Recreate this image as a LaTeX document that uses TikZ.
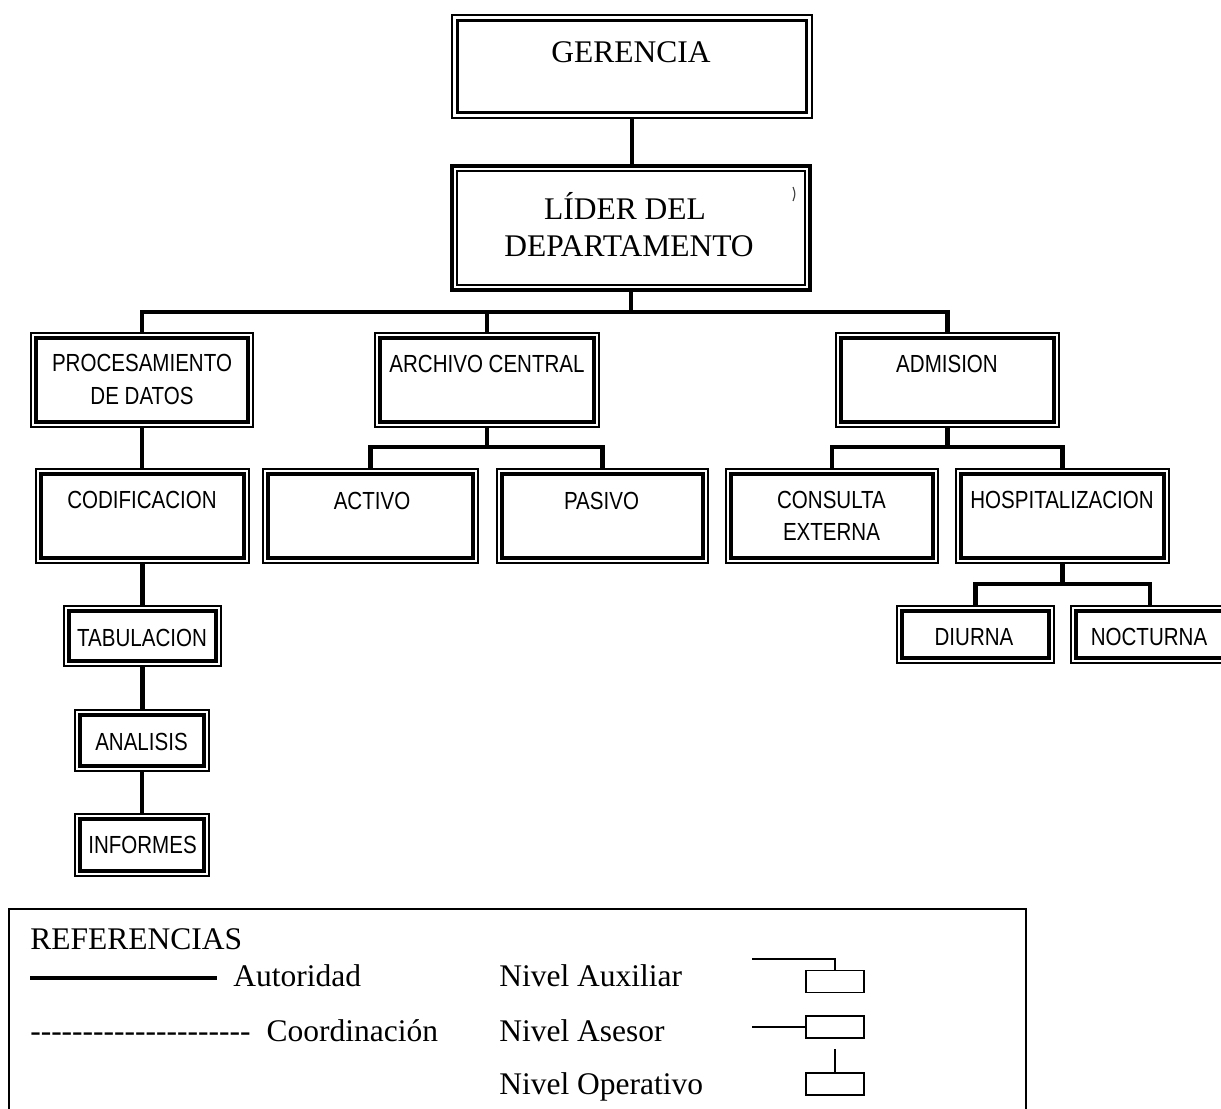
\documentclass[tikz,border=0pt]{standalone}
\usepackage{fontspec}
\setmainfont{Liberation Serif}
\newfontfamily\narrowsans{Liberation Sans}[FakeStretch=0.83]

% a row of plain hyphens (kerns keep them from turning into dashes)
\newcommand\dashrow{-\kern0pt-\kern0pt-\kern0pt-\kern0pt-\kern0pt-\kern0pt-\kern0pt-\kern0pt-\kern0pt-\kern0pt-\kern0pt-\kern0pt-\kern0pt-\kern0pt-\kern0pt-\kern0pt-\kern0pt-\kern0pt-\kern0pt-\kern0pt-}

% box from its outer corners: style, name, x1, y1, x2, y2
\newcommand\orgbox[6]{%
  \node[#1, minimum width={(#5-#3)*0.025cm}, minimum height={(#6-#4)*0.025cm}]
    (#2) at ({(#3+#5)/2},{(#4+#6)/2}) {};}

\begin{document}
\begin{tikzpicture}[x=0.025cm, y=-0.025cm,
  conn/.style={line width=3.2pt},
  framed/.style={draw, inner sep=0pt, outer sep=0pt},
  subbox/.style={framed, line width=1.1pt,
    path picture={\draw[line width=2.9pt]
      ([shift={(0.115cm,-0.115cm)}]path picture bounding box.north west) rectangle
      ([shift={(-0.115cm,0.115cm)}]path picture bounding box.south east);}},
  topbox/.style={framed, line width=1.7pt,
    path picture={\draw[line width=1.9pt]
      ([shift={(0.14cm,-0.14cm)}]path picture bounding box.north west) rectangle
      ([shift={(-0.14cm,0.14cm)}]path picture bounding box.south east);}},
  headbox/.style={framed, line width=3.2pt,
    path picture={\draw[line width=1.5pt]
      ([shift={(0.12cm,-0.12cm)}]path picture bounding box.north west) rectangle
      ([shift={(-0.12cm,0.12cm)}]path picture bounding box.south east);}},
  ttl/.style={font=\fontsize{22.4}{26.3}\selectfont, inner sep=0pt},
  lbl/.style={font=\narrowsans\fontsize{17.6}{22.8}\selectfont, inner sep=0pt},
  leg/.style={font=\fontsize{22.4}{27}\selectfont, inner sep=0pt, anchor=base west},
  lgbox/.style={framed, line width=1pt, minimum width=1.45cm, minimum height=0.55cm},
  lgline/.style={line width=1pt}]

\useasboundingbox (0,0) rectangle (1221,1109);
\clip (0,0) rectangle (1221,1109);

% ---- boxes ----
\orgbox{topbox}{ger}{452}{15}{812}{118}
\orgbox{headbox}{lid}{452}{166}{810}{290}
\orgbox{subbox}{proc}{31}{333}{253}{427}
\orgbox{subbox}{arch}{375}{333}{599}{427}
\orgbox{subbox}{adm}{836}{333}{1059}{427}
\orgbox{subbox}{cod}{36}{469}{249}{563}
\orgbox{subbox}{act}{263}{469}{478}{563}
\orgbox{subbox}{pas}{497}{469}{708}{563}
\orgbox{subbox}{con}{726}{469}{938}{563}
\orgbox{subbox}{hos}{956}{469}{1169}{563}
\orgbox{subbox}{diu}{897}{606}{1054}{663}
\orgbox{subbox}{noc}{1071}{606}{1229}{663}
\orgbox{subbox}{tab}{64}{606}{221}{666}
\orgbox{subbox}{ana}{75}{710}{209}{771}
\orgbox{subbox}{inf}{75}{814}{209}{876}

% ---- texts ----
\node[ttl, anchor=base] (t-ger) at (631,63) {GERENCIA};
\node[ttl, align=center] (t-lid) at (629,224.5) {LÍDER DEL\hspace*{0.2cm}\\DEPARTAMENTO};
\node[lbl, align=center] (t-proc) at (142,379.5) {PROCESAMIENTO\\DE DATOS};
\node[lbl, anchor=base] (t-arch) at (487,372) {ARCHIVO CENTRAL};
\node[lbl, anchor=base] (t-adm) at (947,372) {ADMISION};
\node[lbl, anchor=base] (t-cod) at (142,508) {CODIFICACION};
\node[lbl, anchor=base] (t-act) at (372,509) {ACTIVO};
\node[lbl, anchor=base] (t-pas) at (601.5,509) {PASIVO};
\node[lbl, align=center] (t-con) at (831.5,516) {CONSULTA\\EXTERNA};
\node[lbl, anchor=base] (t-hos) at (1062,508) {HOSPITALIZACION};
\node[lbl, anchor=base] (t-tab) at (142,646) {TABULACION};
\node[lbl, anchor=base] (t-diu) at (974,645) {DIURNA};
\node[lbl, anchor=base] (t-noc) at (1149,645) {NOCTURNA};
\node[lbl, anchor=base] (t-ana) at (141.5,750) {ANALISIS};
\node[lbl, anchor=base] (t-inf) at (142.5,853) {INFORMES};

% small stray stroke inside the head box
\draw[line width=0.8pt, black!75] (793,187) .. controls (795.5,194) .. (793,201);

% ---- connectors ----
\coordinate (bar1) at (0,312);
\coordinate (bar2) at (0,447);
\coordinate (bar3) at (0,584);
\draw[conn] (ger.south) -- (ger.south |- lid.north);
\draw[conn] (lid.south) -- (lid.south |- bar1);
\draw[conn] (proc.north) |- (adm.north |- bar1) -- (adm.north);
\draw[conn] (arch.north) -- (arch.north |- bar1);

\draw[conn] (proc.south) -- (proc.south |- cod.north);
\draw[conn] (cod.south) -- (cod.south |- tab.north);
\draw[conn] (tab.south) -- (tab.south |- ana.north);
\draw[conn] (ana.south) -- (ana.south |- inf.north);

\draw[conn] (arch.south) -- (arch.south |- bar2);
\draw[conn] (act.north) |- (pas.north |- bar2) -- (pas.north);

\draw[conn] (adm.south) -- (adm.south |- bar2);
\draw[conn] (con.north) |- (hos.north |- bar2) -- (hos.north);

\draw[conn] (hos.south) -- (hos.south |- bar3);
\draw[conn] (diu.north) |- (noc.north |- bar3) -- (noc.north);

% ---- legend ----
\coordinate (fr-bl) at (9,1109);
\coordinate (fr-tl) at (9,909);
\coordinate (fr-tr) at (1026,909);
\coordinate (fr-br) at (1026,1109);
\draw[line width=1.3pt] (fr-bl) -- (fr-tl) -- (fr-tr) -- (fr-br);

\node[leg] (l-ref) at (30,949) {REFERENCIAS};
\coordinate (aut-a) at (30,978);
\coordinate (aut-b) at (217,978);
\draw[line width=2.3pt] (aut-a) -- (aut-b);
\node[leg] (l-aut) at (233,986) {Autoridad};
\node[leg] (l-coo) at (30,1041) {\dashrow\hspace{0.4cm}Coordinación};
\node[leg] (l-aux) at (499,986) {Nivel Auxiliar};
\node[leg] (l-ase) at (499,1041) {Nivel Asesor};
\node[leg] (l-ope) at (499,1094) {Nivel Operativo};

\node[lgbox] (s-aux) at (835,981.5) {};
\coordinate (s-aux-in) at (752,959);
\draw[lgline] (s-aux-in) -| (s-aux.north);
\node[lgbox] (s-ase) at (835,1027) {};
\coordinate (s-ase-in) at (752,1027);
\draw[lgline] (s-ase-in) -- (s-ase.west);
\node[lgbox] (s-ope) at (835,1084) {};
\coordinate (s-ope-in) at (835,1049);
\draw[lgline] (s-ope-in) -- (s-ope.north);
\end{tikzpicture}
\end{document}
